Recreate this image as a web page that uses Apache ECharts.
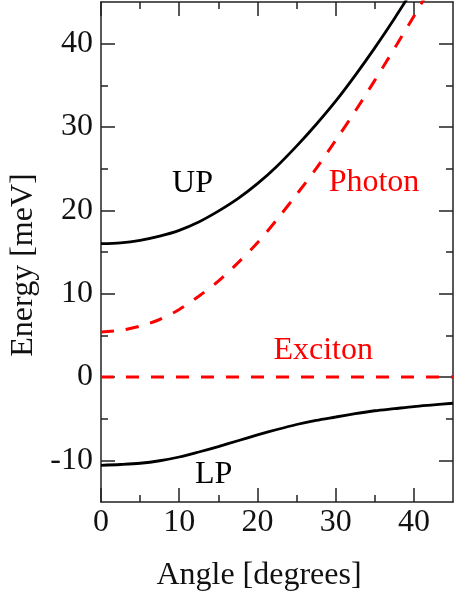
<!DOCTYPE html>
<html>
<head>
<meta charset="utf-8">
<script src="https://cdn.jsdelivr.net/npm/echarts@6/dist/echarts.min.js"></script>
<style>
  html, body { margin: 0; padding: 0; background: #fff; }
  #chart { width: 459px; height: 600px; }
</style>
</head>
<body>
<div id="chart"></div>
<script>
// Polariton dispersion: angle (degrees) vs energy relative to the exciton (meV)
const angles  = [0, 2.5, 5, 7.5, 10, 12.5, 15, 17.5, 20, 22.5, 25, 27.5, 30, 32.5, 35, 37.5, 40, 42.5, 45];
const upper   = [16.0, 16.1, 16.4, 16.9, 17.6, 18.6, 19.9, 21.4, 23.2, 25.3, 27.7, 30.3, 33.1, 36.2, 39.5, 43.0, 46.7, 50.5, 54.5];
const photon  = [5.4, 5.6, 6.1, 6.9, 8.1, 9.7, 11.5, 13.7, 16.1, 18.9, 21.9, 25.0, 28.4, 31.9, 35.6, 39.4, 43.3, 47.3, 51.6];
const lower   = [-10.6, -10.5, -10.35, -10.05, -9.6, -9.0, -8.35, -7.65, -6.95, -6.3, -5.7, -5.2, -4.8, -4.4, -4.05, -3.8, -3.55, -3.35, -3.15];
const exciton = [0, 0, 0, 0, 0, 0, 0, 0, 0, 0, 0, 0, 0, 0, 0, 0, 0, 0, 0];

// Axis ranges and tick marks
const xRange = [0, 45];
const yRange = [-15, 45];
const xMajor = [0, 10, 20, 30, 40];
const xMinor = [5, 15, 25, 35];
const yMajor = [-10, 0, 10, 20, 30, 40];
const yMinor = [-5, 5, 15, 25, 35];

// Curve annotations: [name, angle, energy]
const curveLabels = [
  ['UP', 11.7, 23.2],
  ['Photon', 34.9, 23.3],
  ['Exciton', 28.4, 3.2],
  ['LP', 14.4, -11.7]
];

const FONT = 'Liberation Serif';
const BLACK = '#000';
const RED = '#ff0000';
const axisLine = { show: true, onZero: false, lineStyle: { color: '#222', width: 1.5 } };
const noLine = { show: false, onZero: false };

function makeAxis(kind, position, range, ticks, len, labels, line) {
  return {
    type: 'value',
    position: position,
    min: range[0],
    max: range[1],
    axisLine: line ? axisLine : noLine,
    splitLine: { show: false },
    axisTick: {
      show: true, inside: true, length: len, customValues: ticks,
      lineStyle: { color: '#222', width: 1.5 }
    },
    axisLabel: labels ? {
      show: true, customValues: ticks,
      fontFamily: FONT, fontSize: 32, color: '#111',
      margin: kind === 'x' ? 5 : 8
    } : { show: false }
  };
}

const pairs = arr => angles.map((a, i) => [a, arr[i]]);

const chart = echarts.init(document.getElementById('chart'), null, { renderer: 'canvas' });

chart.setOption({
  animation: false,
  backgroundColor: '#fff',
  grid: { left: 101, right: 6, top: 2, bottom: 98, containLabel: false },
  xAxis: [
    makeAxis('x', 'bottom', xRange, xMajor, 14, true, true),
    makeAxis('x', 'bottom', xRange, xMinor, 7, false, false),
    makeAxis('x', 'top', xRange, xMajor, 14, false, true),
    makeAxis('x', 'top', xRange, xMinor, 7, false, false)
  ],
  yAxis: [
    makeAxis('y', 'left', yRange, yMajor, 14, true, true),
    makeAxis('y', 'left', yRange, yMinor, 7, false, false),
    makeAxis('y', 'right', yRange, yMajor, 14, false, true),
    makeAxis('y', 'right', yRange, yMinor, 7, false, false)
  ],
  series: [
    {
      name: 'Exciton', type: 'line', data: pairs(exciton),
      showSymbol: false, clip: true,
      lineStyle: { color: RED, width: 3, type: [13, 12] }
    },
    {
      name: 'Photon', type: 'line', data: pairs(photon),
      showSymbol: false, smooth: 0.3, clip: true,
      lineStyle: { color: RED, width: 3, type: [13, 12] }
    },
    {
      name: 'UP', type: 'line', data: pairs(upper),
      showSymbol: false, smooth: 0.3, clip: true,
      lineStyle: { color: BLACK, width: 2.8 }
    },
    {
      name: 'LP', type: 'line', data: pairs(lower),
      showSymbol: false, smooth: 0.3, clip: true,
      lineStyle: { color: BLACK, width: 2.8 }
    },
    {
      name: 'labels', type: 'scatter', symbolSize: 0, silent: true,
      itemStyle: { opacity: 1 },
      data: curveLabels.map(([name, x, y]) => ({
        name: name,
        value: [x, y],
        label: { color: (name === 'Photon' || name === 'Exciton') ? RED : '#000' }
      })),
      label: {
        show: true, position: 'inside', formatter: p => p.name,
        fontFamily: FONT, fontSize: 32, opacity: 1,
        textBorderWidth: 0, textShadowBlur: 0
      }
    }
  ],
  graphic: [
    {
      type: 'text', x: 259, y: 576,
      style: {
        text: 'Angle [degrees]', font: '32px "Liberation Serif"',
        fill: '#111', align: 'center', verticalAlign: 'middle'
      }
    },
    {
      type: 'text', x: 24, y: 265, rotation: Math.PI / 2,
      style: {
        text: 'Energy [meV]', font: '32px "Liberation Serif"',
        fill: '#111', align: 'center', verticalAlign: 'middle'
      }
    }
  ]
});
</script>
</body>
</html>
